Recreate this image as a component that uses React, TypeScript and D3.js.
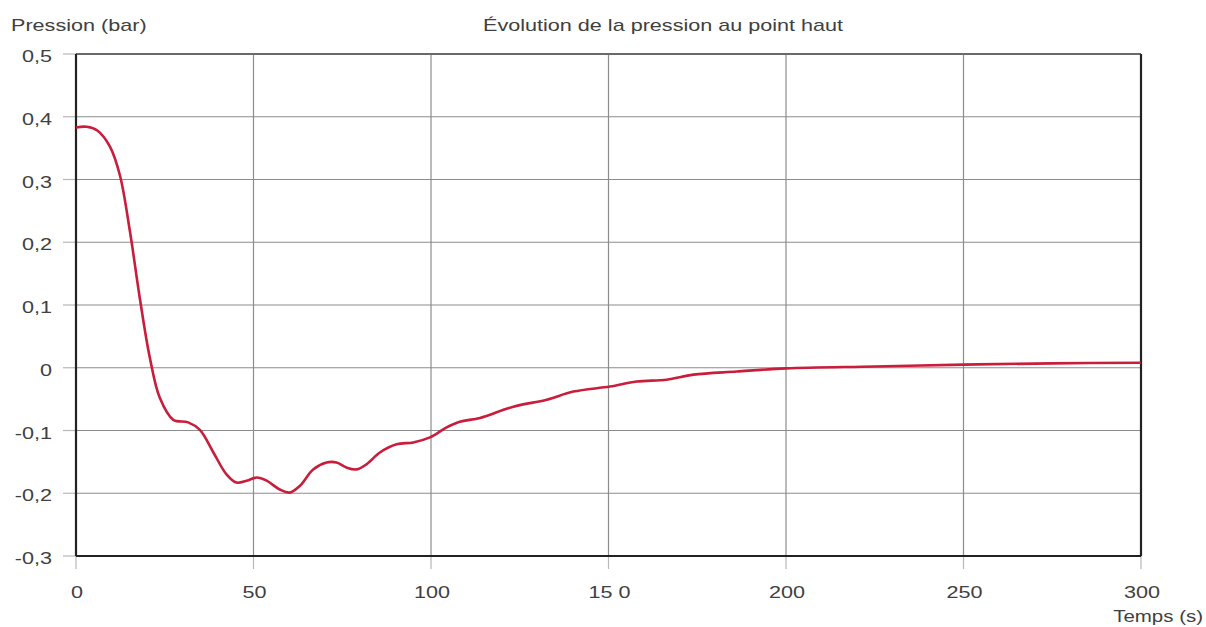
import React from "react";
import * as d3 from "d3";

const timeS = [0, 3, 6, 9.6, 12.4, 15.2, 18, 20.8, 23.6, 27.4, 31.6, 34.9, 38.7, 42.4, 45.2, 48.1, 50.9, 53.7, 57.4, 60.2, 63.1, 66.8, 70.6, 73.4, 76.2, 79, 81.8, 85.6, 90.3, 95, 99.7, 104.4, 108.1, 113.8, 123.2, 132.6, 140.1, 150.4, 157.9, 166.4, 173.9, 186.1, 200, 225, 250, 275, 300];
const pressureBar = [0.383, 0.384, 0.378, 0.352, 0.306, 0.217, 0.11, 0.016, -0.048, -0.083, -0.087, -0.099, -0.135, -0.17, -0.183, -0.18, -0.175, -0.18, -0.194, -0.199, -0.188, -0.162, -0.151, -0.151, -0.159, -0.162, -0.154, -0.135, -0.122, -0.119, -0.111, -0.095, -0.086, -0.08, -0.062, -0.051, -0.038, -0.03, -0.022, -0.019, -0.011, -0.006, -0.001, 0.002, 0.005, 0.007, 0.008];

const xTicks = [0, 50, 100, 150, 200, 250, 300];
const xTickLabels = ["0", "50", "100", "15 0", "200", "250", "300"];
const yTicks = [0.5, 0.4, 0.3, 0.2, 0.1, 0, -0.1, -0.2, -0.3];
const yTickLabels = ["0,5", "0,4", "0,3", "0,2", "0,1", "0", "-0,1", "-0,2", "-0,3"];

const title = "Évolution de la pression au point haut";
const yTitle = "Pression (bar)";
const xTitle = "Temps (s)";

const W = 1206;
const H = 627;
const left = 76;
const right = 1141;
const top = 54;
const bottom = 556;
const SX = 1.35;
const FONT = "Liberation Sans, Arial, sans-serif";
const TEXT_COLOR = "#404040";

function Txt({ x, y, anchor = "start", size = 16, sx = SX, children }: any) {
  return (
    <text
      transform={`translate(${x},${y}) scale(${sx},1)`}
      textAnchor={anchor}
      fontFamily={FONT}
      fontSize={size}
      fill={TEXT_COLOR}
    >
      {children}
    </text>
  );
}

export default function App() {
  const x = d3.scaleLinear().domain([0, 300]).range([left, right]);
  const y = d3.scaleLinear().domain([-0.3, 0.5]).range([bottom, top]);
  const data = timeS.map((t, i) => [t, pressureBar[i]] as [number, number]);
  const line = d3
    .line<[number, number]>()
    .x((d) => x(d[0]))
    .y((d) => y(d[1]))
    .curve(d3.curveCatmullRom.alpha(0.5));

  return (
    <svg
      width={W}
      height={H}
      style={{ position: "absolute", left: 0, top: 0, background: "#fff" }}
    >
      <rect x={0} y={0} width={W} height={H} fill="#fff" />
      {yTicks.map((v, i) => (
        <g key={"y" + i}>
          <line x1={63} x2={left} y1={y(v)} y2={y(v)} stroke="#b8b8b8" strokeWidth={1.2} />
          <line x1={left} x2={right} y1={y(v)} y2={y(v)} stroke="#8c8c8c" strokeWidth={1.2} />
          <Txt x={52} y={y(v) + 8} anchor="end">{yTickLabels[i]}</Txt>
        </g>
      ))}
      {xTicks.map((v, i) => (
        <g key={"x" + i}>
          <line x1={x(v)} x2={x(v)} y1={bottom} y2={569} stroke="#b8b8b8" strokeWidth={1.2} />
          <line x1={x(v)} x2={x(v)} y1={top} y2={bottom} stroke="#8c8c8c" strokeWidth={1.2} />
          <Txt x={x(v) + 1} y={598} anchor="middle">{xTickLabels[i]}</Txt>
        </g>
      ))}
      <line x1={left} x2={right} y1={top} y2={top} stroke="#6a6a6a" strokeWidth={2.2} />
      <line x1={left} x2={right} y1={bottom} y2={bottom} stroke="#222" strokeWidth={2.2} />
      <line x1={left} x2={left} y1={top} y2={bottom} stroke="#222" strokeWidth={2.2} />
      <line x1={right} x2={right} y1={top} y2={top} stroke="#222" strokeWidth={2.2} />
      <line x1={right} x2={right} y1={top} y2={bottom} stroke="#222" strokeWidth={2.2} />
      <path d={line(data) || ""} fill="none" stroke="#c91d3c" strokeWidth={2.6} strokeLinejoin="round" />
      <Txt x={483} y={31}>{title}</Txt>
      <Txt x={11} y={31}>{yTitle}</Txt>
      <Txt x={1203} y={622} anchor="end" sx={1.28}>{xTitle}</Txt>
    </svg>
  );
}
